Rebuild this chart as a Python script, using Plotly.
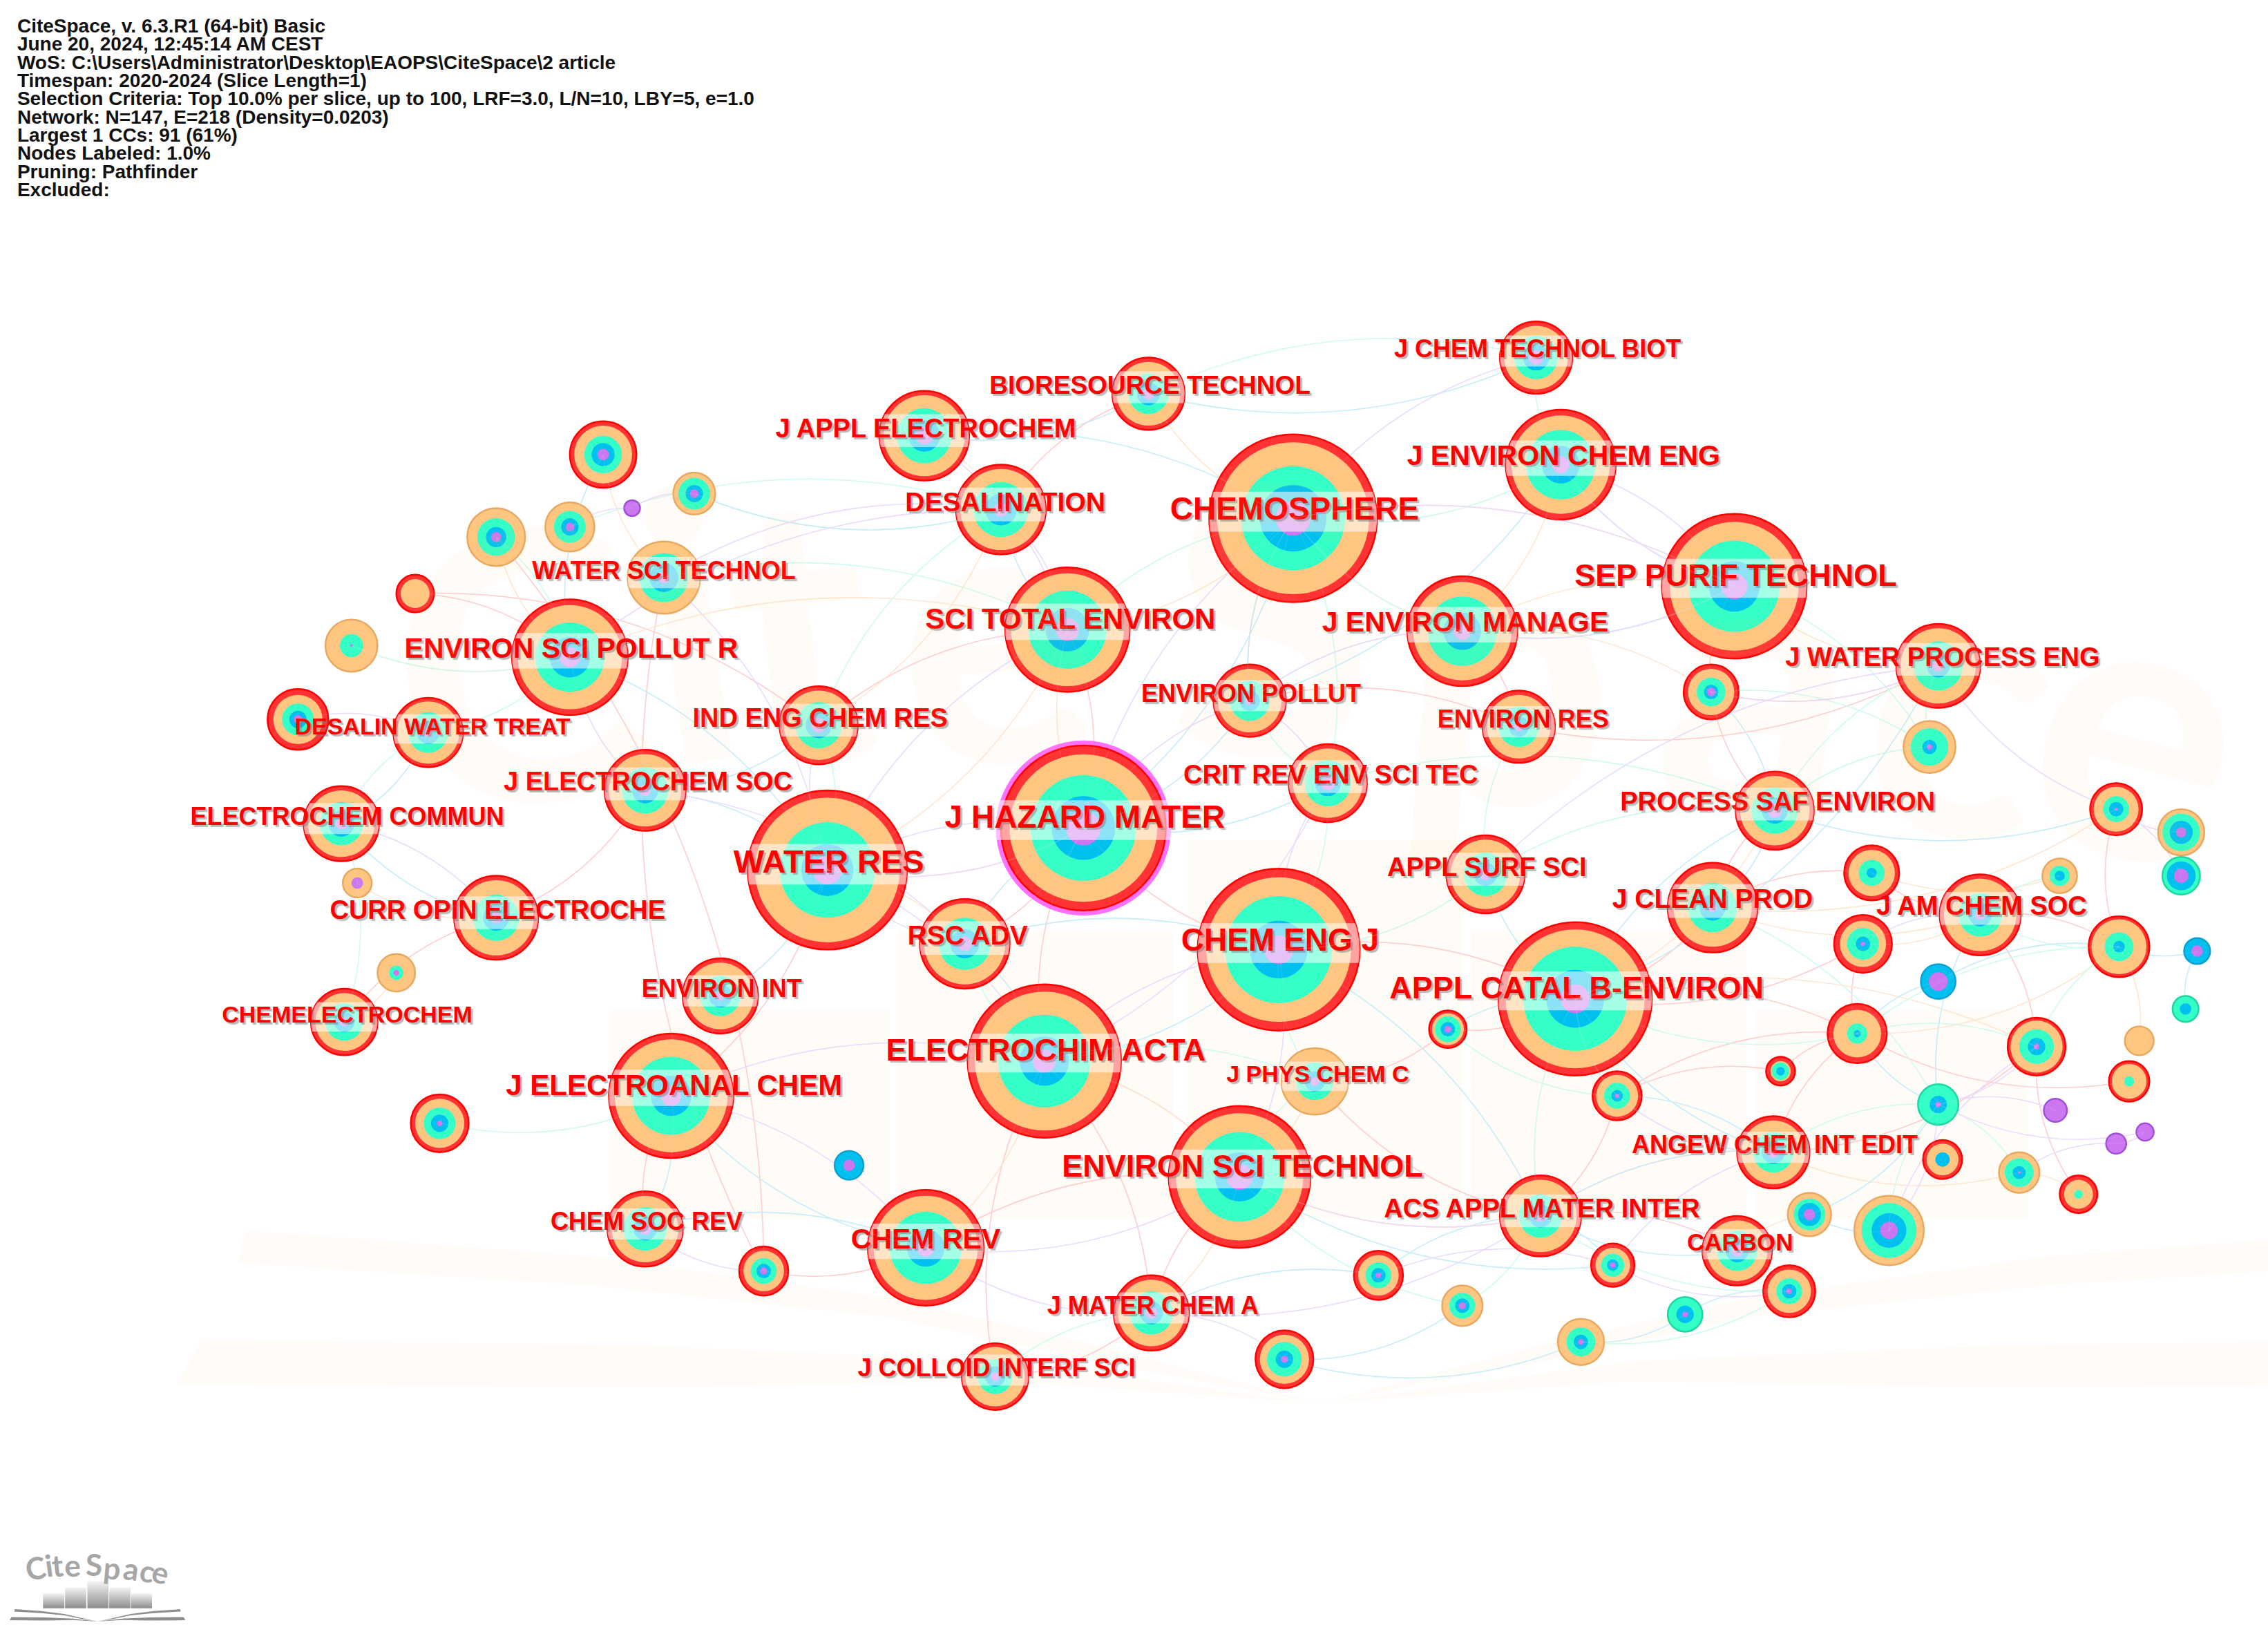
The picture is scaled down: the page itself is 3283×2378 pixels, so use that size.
import numpy as np
import plotly.graph_objects as go

W, H = 3283, 2378
PX = W / 1568  # picture was read at 1568 wide

header_lines = [
    "CiteSpace, v. 6.3.R1 (64-bit) Basic",
    "June 20, 2024, 12:45:14 AM CEST",
    "WoS: C:\\Users\\Administrator\\Desktop\\EAOPS\\CiteSpace\\2 article",
    "Timespan: 2020-2024 (Slice Length=1)",
    "Selection Criteria: Top 10.0% per slice, up to 100, LRF=3.0, L/N=10, LBY=5, e=1.0",
    "Network: N=147, E=218 (Density=0.0203)",
    "Largest 1 CCs: 91 (61%)",
    "Nodes Labeled: 1.0%",
    "Pruning: Pathfinder",
    "Excluded:",
]

# nodes, labelled ones first
node_x = [749, 894, 1199, 572, 884, 1089, 722, 857, 464, 738, 394, 640, 1079, 1011,
          639, 692, 667, 1184, 1340, 1065, 343, 1227, 918, 446, 236, 566, 1027, 1369,
          498, 864, 1050, 296, 459, 794, 1062, 1226, 1201, 796, 688, 446, 238, 909,
          417, 480, 394, 343, 437, 287, 243, 206, 247, 274, 304, 587, 528, 1001, 1183,
          1334, 1463, 1508, 1508, 1424, 1294, 1288, 1465, 1519, 1340, 1511, 1284, 1479,
          1408, 1472, 1231, 1118, 1340, 1421, 1483, 1463, 1343, 1396, 1437, 1251, 1306,
          1115, 953, 1237, 1165, 1011, 1093, 888]
node_y = [572, 358, 405, 601, 656, 690, 733, 813, 757, 435, 454, 862, 321, 436,
          301, 352, 652, 627, 460, 840, 634, 560, 541, 546, 569, 501, 604, 632,
          688, 484, 502, 506, 399, 272, 247, 796, 864, 907, 951, 849, 706, 747,
          314, 341, 364, 371, 351, 410, 446, 497, 610, 672, 776, 805, 878, 711, 478,
          516, 559, 575, 605, 605, 603, 652, 654, 657, 678, 697, 714, 719,
          723, 747, 740, 757, 763, 767, 782, 790, 801, 810, 825, 839, 850,
          874, 881, 892, 908, 902, 927, 939]

# ring radii per citation year colour, outermost first
red_r = [57, 58, 50, 55, 56, 53, 53, 49, 43, 43, 40, 40, 38, 38,
         31, 31, 31, 31, 29, 28, 29, 27, 27, 28, 26, 27, 27, 28,
         26, 25, 25, 24, 0, 25, 25, 25, 24, 26, 23, 26, 23, 0,
         23, 0, 0, 0, 0, 13, 0, 21, 0, 0, 20, 0, 17, 13, 19,
         0, 18, 0, 0, 0, 19, 20, 21, 0, 0, 0, 20.5, 0,
         20, 14, 10, 17, 0, 0, 0, 0, 13.5, 0, 13, 0, 0,
         15, 17, 18, 0, 0, 0, 20]
orange_r = [51, 52.5, 44.5, 50, 50, 48, 48, 44, 39, 39, 36, 36, 34, 34,
            28, 28, 28, 27, 26, 25, 26, 24, 24, 25, 23, 24, 24, 25,
            23, 22, 22, 21.5, 25, 22, 22, 22, 21, 23, 20.5, 23, 20, 23,
            20, 14.5, 17, 20, 0, 10, 18, 17, 10, 13, 17, 0, 14, 11, 16,
            18, 15.5, 16, 0, 12, 16, 16, 19, 0, 0, 0, 16.5, 10,
            18, 12, 7, 14.5, 0, 0, 0, 0, 11, 14, 10, 15, 24,
            12, 14, 15, 0, 14, 16, 17]
teal_r = [36.5, 36, 31.5, 33, 37, 36, 32, 31, 27, 27, 24, 25, 24, 24,
          19, 19, 18, 17, 17, 15, 16, 16, 16, 16, 15, 16, 15, 15,
          14, 14, 14, 14, 17, 14, 15, 14, 14, 15, 12, 15, 13, 13,
          13, 11, 11, 13, 0, 0, 8, 11, 0, 5, 11, 0, 9, 9, 10,
          13, 9, 13, 13, 7, 9, 11, 10, 0, 0, 9, 7, 0,
          12, 3.5, 6, 9, 14, 0, 0, 0, 0, 10, 3, 11, 19,
          8, 9, 9, 12, 9, 10, 12]
blue_r = [22, 23, 17.5, 18, 20, 20, 17, 17, 14, 15, 14, 13, 13, 13,
          11, 11, 10, 9, 8, 8, 9, 9, 9, 9, 9, 9, 8, 8,
          8, 7, 7, 8, 10, 8, 9, 8, 8, 8, 7, 8, 7, 7,
          8, 6, 6, 7, 0, 0, 0, 6, 0, 0, 6, 10, 5, 5, 5,
          5, 5, 8, 10, 3.5, 3.5, 5, 4, 9, 12, 4, 2.5, 0,
          6, 0, 3, 4, 6, 0, 0, 0, 5, 4.5, 0, 8, 12,
          4, 5, 5, 6, 5, 5, 6]
purple_r = [12, 12, 9, 10, 10, 10, 8, 9, 7, 8, 7, 6, 6, 6,
            6, 5, 5, 3, 4, 4, 4, 5, 5, 4, 4, 5, 4, 3.5,
            3, 3, 3, 3, 4, 4, 5, 4, 4, 4, 3, 4, 3, 3,
            4, 3, 3, 3.5, 5.5, 0, 1, 3, 4, 2, 2, 4, 2.5, 2.5, 3,
            2, 1, 3.5, 5, 0, 0, 1.5, 0, 4, 6.5, 0, 0, 0,
            2, 0, 0, 1.5, 2, 8, 6, 7, 0, 1, 0, 4, 6,
            2, 2, 2, 2, 2.5, 2, 2.5]

# labels, each sits on the node with the same index
label_text = ["J HAZARD MATER", "CHEMOSPHERE", "SEP PURIF TECHNOL", "WATER RES", "CHEM ENG J",
              "APPL CATAL B-ENVIRON", "ELECTROCHIM ACTA", "ENVIRON SCI TECHNOL", "J ELECTROANAL CHEM",
              "SCI TOTAL ENVIRON", "ENVIRON SCI POLLUT R", "CHEM REV", "J ENVIRON CHEM ENG",
              "J ENVIRON MANAGE", "J APPL ELECTROCHEM", "DESALINATION", "RSC ADV", "J CLEAN PROD",
              "J WATER PROCESS ENG", "ACS APPL MATER INTER", "CURR OPIN ELECTROCHE", "PROCESS SAF ENVIRON",
              "CRIT REV ENV SCI TEC", "J ELECTROCHEM SOC", "ELECTROCHEM COMMUN", "IND ENG CHEM RES",
              "APPL SURF SCI", "J AM CHEM SOC", "ENVIRON INT", "ENVIRON POLLUT", "ENVIRON RES",
              "DESALIN WATER TREAT", "WATER SCI TECHNOL", "BIORESOURCE TECHNOL", "J CHEM TECHNOL BIOT",
              "ANGEW CHEM INT EDIT", "CARBON", "J MATER CHEM A", "J COLLOID INTERF SCI", "CHEM SOC REV",
              "CHEMELECTROCHEM", "J PHYS CHEM C"]
label_x = [750, 895, 1200, 573, 885, 1090, 723, 859, 466, 740, 395, 640, 1081, 1013,
           640, 695, 669, 1184, 1343, 1066, 344, 1229, 920, 448, 240, 567, 1028, 1370,
           499, 865, 1053, 299, 459, 795, 1063, 1227, 1203, 797, 689, 447, 240, 911]
label_y = [566.5, 353.5, 399.5, 597, 651.5, 684.5, 727.5, 807.5, 751.5, 429.5, 449.5, 857.5, 316.5, 431.5,
           297.5, 348.5, 648, 622.5, 455.5, 836.5, 630.5, 555.5, 536.5, 541.5, 565.5, 497.5, 600.5, 627.5,
           684.5, 480.5, 498.5, 503.5, 395.5, 267.5, 242.5, 792.5, 859.5, 903.5, 946.5, 845.5, 702.5, 743.5]
label_size = [46, 46, 45, 47, 46, 45, 45, 45, 42, 42, 41, 41, 41, 41,
              38, 39, 39, 39, 38, 38, 38, 38, 38, 38, 36, 38, 38, 38,
              36, 36, 36, 34, 36, 37, 36, 36, 35, 36, 36, 36, 34, 34]

# links as node index pairs, one list per colour
edges_red = [(0, 6), (0, 4), (3, 8), (4, 5), (5, 17), (5, 63), (5, 68), (5, 73), (6, 7), (7, 37),
             (7, 11), (11, 54), (13, 30), (2, 56), (56, 18), (27, 64), (27, 70), (70, 80), (68, 63),
             (35, 68), (37, 38), (16, 0), (9, 25), (33, 15), (47, 10), (39, 8), (20, 40), (23, 20),
             (73, 72), (17, 62), (21, 17), (55, 5), (25, 47), (29, 30), (30, 18), (45, 54), (32, 54),
             (9, 0), (1, 29), (6, 37), (7, 19), (19, 36), (68, 72), (73, 68), (6, 38), (19, 73),
             (41, 19), (41, 55), (21, 56), (35, 19), (27, 62), (58, 64), (70, 35), (71, 68)]
edges_orange = [(0, 3), (0, 9), (1, 2), (2, 18), (5, 21), (4, 26), (7, 19), (6, 11), (14, 15),
                (64, 69), (79, 80), (35, 79), (36, 81), (12, 13), (25, 15), (10, 45), (48, 10),
                (50, 20), (51, 40), (3, 16), (17, 27), (61, 62), (13, 2), (58, 17), (42, 32),
                (10, 9), (3, 9), (9, 1), (1, 13), (7, 41), (6, 7), (5, 70), (63, 27), (68, 64),
                (13, 56), (33, 1), (37, 7)]
edges_teal = [(1, 9), (1, 13), (2, 13), (4, 22), (4, 26), (3, 25), (8, 28), (24, 31), (10, 31),
              (45, 10), (44, 15), (43, 15), (34, 12), (12, 1), (21, 18), (57, 18), (57, 21), (64, 68),
              (74, 79), (74, 82), (64, 70), (5, 19), (35, 74), (61, 27), (41, 7), (41, 4), (6, 41),
              (19, 85), (36, 85), (85, 88), (87, 19), (52, 8), (16, 6), (30, 26), (22, 29), (40, 24),
              (33, 34), (48, 10), (32, 9), (15, 25), (5, 73), (73, 35), (55, 73), (68, 5), (2, 57),
              (56, 57), (22, 21), (26, 21), (64, 27), (17, 74), (70, 68), (38, 37), (7, 87), (1, 22)]
edges_blue = [(0, 16), (0, 22), (4, 16), (5, 26), (4, 19), (3, 23), (3, 28), (8, 39), (11, 39),
              (24, 20), (14, 1), (33, 14), (42, 10), (65, 64), (65, 67), (64, 66), (66, 68), (68, 74),
              (74, 27), (74, 81), (82, 81), (35, 19), (36, 19), (5, 35), (21, 5), (34, 33), (12, 2),
              (18, 5), (58, 21), (56, 21), (84, 19), (86, 85), (83, 19), (89, 87), (88, 89), (37, 84),
              (15, 9), (29, 0), (10, 3), (43, 15), (31, 24), (23, 25), (1, 29), (1, 0), (13, 29),
              (12, 29), (5, 55), (6, 4), (6, 16), (7, 83), (35, 73), (11, 8), (17, 21), (88, 86), (2, 13)]
edges_purple = [(0, 3), (0, 1), (0, 29), (1, 2), (2, 13), (2, 12), (9, 15), (3, 6), (6, 8), (8, 11),
                (11, 7), (7, 19), (37, 19), (11, 37), (10, 15), (14, 9), (59, 58), (60, 58), (74, 75),
                (74, 76), (76, 77), (77, 79), (74, 70), (70, 82), (82, 74), (27, 63), (18, 26),
                (13, 29), (23, 16), (25, 3), (31, 49), (46, 43), (22, 4), (54, 39), (89, 37), (46, 44),
                (32, 15), (32, 3), (23, 10), (20, 24), (16, 3), (3, 0), (4, 6), (4, 7), (1, 34), (12, 2),
                (56, 18), (18, 58), (84, 83), (83, 85), (6, 22), (73, 35), (35, 83), (9, 3), (29, 22)]

bar_left = [187, 283, 380, 475, 570]
bar_right = [280, 375, 472, 567, 661]
bar_top = [315, 290, 262, 290, 315]
bar_bottom = 380
page_upper_x = [65, 180, 280, 350, 424, 350, 280, 180, 62]
page_upper_y = [384, 392, 405, 420, 438, 425, 411, 401, 394]
page_lower_x = [50, 200, 320, 424, 320, 200, 42]
page_lower_y = [418, 420, 425, 438, 431, 433, 432]
logo_letters = ["C", "i", "t", "e", "S", "p", "a", "c", "e"]
letter_x = [155, 213, 250, 316, 408, 488, 572, 640, 700]
letter_y = [205, 192, 192, 192, 190, 205, 208, 215, 222]
letter_rot = [-10, -8, -6, -3, 0, 5, 8, 12, 15]


def big_x(z):
    return 912 + (np.asarray(z, dtype=float) - 424) * 2.066


def big_y(z):
    return 969.4 + (np.asarray(z, dtype=float) - 438) * 2.207


def small_x(z):
    return np.asarray(z, dtype=float) * 0.159


def small_y(z):
    return 1050.6 + np.asarray(z, dtype=float) * 0.159


def poly_path(xs, ys):
    pts = ["%s%.1f %.1f" % ("M" if i == 0 else "L", x, y) for i, (x, y) in enumerate(zip(xs, ys))]
    return " ".join(pts) + " Z"


fig = go.Figure()
shapes = []

# faint watermark behind everything
wm_color = "#fffbf6"
for l, r, t in zip(bar_left, bar_right, bar_top):
    shapes.append(dict(type="rect", layer="below", line_width=0, fillcolor=wm_color,
                       x0=big_x(l), x1=big_x(r), y0=big_y(t), y1=big_y(bar_bottom)))
for px_, py_ in [(page_upper_x, page_upper_y), (page_lower_x, page_lower_y)]:
    for flip in (False, True):
        xs = [848 - v for v in px_] if flip else px_
        shapes.append(dict(type="path", layer="below", line_width=0, fillcolor=wm_color,
                           path=poly_path(big_x(xs), big_y(py_))))

# links, curved a bit; drawn again very faint on top so they show through the rings
edge_sets = [(edges_red, "#ffcfcf"), (edges_orange, "#ffe8d2"), (edges_teal, "#cffcee"),
             (edges_blue, "#c8eefa"), (edges_purple, "#ecdcfd")]
for edges, color in edge_sets:
    for a, b in edges:
        x0, y0, x1, y1 = node_x[a], node_y[a], node_x[b], node_y[b]
        sign = 1 if (a + b) % 2 else -1
        cx = (x0 + x1) / 2 + sign * 0.18 * (y1 - y0)
        cy = (y0 + y1) / 2 - sign * 0.18 * (x1 - x0)
        path = "M %d %d Q %.1f %.1f %d %d" % (x0, y0, cx, cy, x1, y1)
        shapes.append(dict(type="path", layer="below", line=dict(color=color, width=1.6), path=path))
        shapes.append(dict(type="path", layer="above", opacity=0.1, line=dict(color=color, width=1.6), path=path))

# magenta halo of the burst node
fig.add_trace(go.Scatter(x=node_x[:1], y=node_y[:1], mode="markers", hoverinfo="skip",
                         marker=dict(color="#ff33ff", size=[121 * PX], line_width=0)))

rings = [(red_r, "#ff3333", "#ff0000"), (orange_r, "#ffc682", "#e8a860"),
         (teal_r, "#33ffc6", "#1cd8a0"), (blue_r, "#00c0f0", "#0aa0d0"),
         (purple_r, "#cc77f0", "#a050d8")]
outer_seen = [False] * len(node_x)
for radii, fill, edge in rings:
    widths = []
    for i, r in enumerate(radii):
        if r > 0 and not outer_seen[i]:
            widths.append(2.5)
            outer_seen[i] = True
        else:
            widths.append(0)
    fig.add_trace(go.Scatter(x=node_x, y=node_y, mode="markers", hoverinfo="skip",
                             marker=dict(color=fill, size=[2 * r * PX for r in radii],
                                         line=dict(color=edge, width=widths), opacity=1)))

# white band behind each label, cut to its node
band_x, band_y = [], []
for i, size in enumerate(label_size):
    half = size * 1.25 / 2 / PX
    cy = node_y[i]
    r = max(red_r[i], orange_r[i])
    if i == 0:
        r = 60.5
    top = max(label_y[i] - half, cy - r)
    bot = min(label_y[i] + half, cy + r)
    ys = np.linspace(top, bot, 14)
    dx = np.sqrt(np.clip(r ** 2 - (ys - cy) ** 2, 0, None))
    band_x += list(node_x[i] - dx) + list((node_x[i] + dx)[::-1]) + [None]
    band_y += list(ys) + list(ys[::-1]) + [None]
fig.add_trace(go.Scatter(x=band_x, y=band_y, mode="lines", fill="toself", hoverinfo="skip",
                         fillcolor="rgba(255,255,255,0.55)", line_width=0))

fig.add_trace(go.Scatter(x=label_x, y=label_y, mode="text", text=label_text, hoverinfo="skip",
                         textposition="middle center",
                         textfont=dict(family="Liberation Sans", color="#ff0000", size=label_size,
                                       weight="bold", shadow="3px 3px 1px rgba(120,120,120,0.5)")))

fig.add_trace(go.Scatter(x=[11.9] * len(header_lines), y=[19.1 + 12.56 * i for i in range(len(header_lines))],
                         mode="text", text=header_lines, textposition="middle right", hoverinfo="skip",
                         textfont=dict(family="Liberation Sans", color="#111111", size=28, weight="bold")))

# small logo in the corner
for l, r, t in zip(bar_left, bar_right, bar_top):
    fig.add_trace(go.Scatter(x=small_x([l, r, r, l, l]), y=small_y([t, t, bar_bottom, bar_bottom, t]),
                             mode="lines", fill="toself", line_width=0, hoverinfo="skip",
                             fillgradient=dict(type="vertical",
                                               colorscale=[[0, "#8c8c8c"], [1, "#f4f4f4"]])))
for px_, py_ in [(page_upper_x, page_upper_y), (page_lower_x, page_lower_y)]:
    for flip in (False, True):
        xs = [848 - v for v in px_] if flip else px_
        fig.add_trace(go.Scatter(x=small_x(xs), y=small_y(py_), mode="lines", fill="toself",
                                 fillcolor="#8e8e8e", line_width=0, hoverinfo="skip"))

annotations = []
for ch, zx, zy, rot in zip(logo_letters, letter_x, letter_y, letter_rot):
    annotations.append(dict(x=small_x(zx), y=small_y(zy), text=ch, showarrow=False, textangle=rot,
                            font=dict(family="Lato", size=44, color="#a6a6a6", weight="bold")))
    annotations.append(dict(x=big_x(zx), y=big_y(zy), text=ch, showarrow=False, textangle=rot,
                            font=dict(family="Lato", size=540, color="rgba(255,190,110,0.05)", weight="bold")))

fig.update_layout(
    width=W, height=H, margin=dict(l=0, r=0, t=0, b=0), showlegend=False,
    paper_bgcolor="white", plot_bgcolor="white",
    xaxis=dict(range=[0, 1568], visible=False, fixedrange=True),
    yaxis=dict(range=[1135, 0], visible=False, fixedrange=True),
    shapes=shapes, annotations=annotations,
)

fig.write_html("out.html", config=dict(displayModeBar=False),
               post_script="document.body.style.margin='0';")
